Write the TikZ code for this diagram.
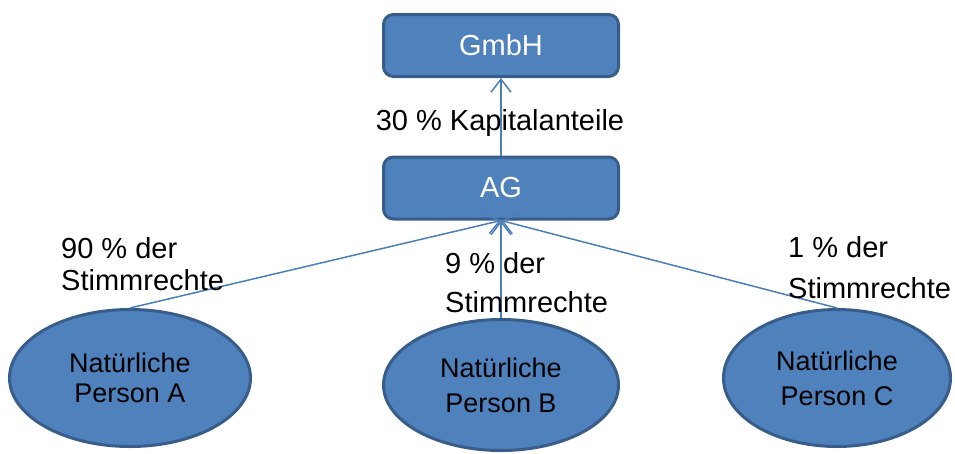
\documentclass[tikz,border=0pt]{standalone}
\usepackage{fontspec}
\setmainfont{Liberation Sans}
\usetikzlibrary{shapes.geometric,arrows.meta}
\definecolor{boxfill}{HTML}{4F81BD}
\definecolor{boxedge}{HTML}{385D8A}
\definecolor{linkcol}{HTML}{4A7EBB}
\begin{document}
\begin{tikzpicture}[x=1pt,y=-1pt,
  entity/.style={draw=boxedge,fill=boxfill,line width=3pt,rounded corners=10pt,
    minimum width=235pt,minimum height=62pt,inner sep=0pt,text=white,
    font=\fontsize{29}{32}\selectfont},
  person/.style={ellipse,draw=boxedge,fill=boxfill,line width=3pt,inner sep=0pt,
    align=center,text=black},
  share/.style={inner sep=0pt,align=left,anchor=base west,
    font=\fontsize{29}{32}\selectfont},
  link/.style={draw=linkcol,line width=1.5pt,
    -{Straight Barb[length=13pt,width=20pt,line width=1.5pt]}}]
\useasboundingbox (0,0) rectangle (955,453);

% companies
\node[entity] (gmbh) at (501,45.5) {GmbH};
\node[entity] (ag) at (501,188) {AG};

% shareholders
\node[person,minimum width=241pt,minimum height=137pt,
  font=\fontsize{27}{30}\selectfont] (pa) at (130,378) {Natürliche\\Person A};
\node[person,minimum width=235pt,minimum height=131pt,
  font=\fontsize{27}{35}\selectfont] (pb) at (501,385) {Natürliche\\Person B};
\node[person,minimum width=227pt,minimum height=137pt,
  font=\fontsize{27}{35}\selectfont] (pc) at (837,378) {Natürliche\\Person C};

% holdings
\draw[link] (ag.north) -- (gmbh.south);
\draw[link] (pa.north) -- (ag.south);
\draw[link] (pb.north) -- (ag.south);
\draw[link] (pc.north) -- (ag.south);

% labels (anchored at the baseline of their last line)
\node[inner sep=0pt,anchor=base,font=\fontsize{29}{32}\selectfont] (lcap) at (500,130) {30 \% Kapitalanteile};
\node[share] (la) at (61,290) {90 \% der\\Stimmrechte};
\node[share] (lb) at (445,312) {9 \% der\\[7pt]Stimmrechte};
\node[share] (lc) at (788,298) {1 \% der\\[9pt]Stimmrechte};
\end{tikzpicture}
\end{document}
